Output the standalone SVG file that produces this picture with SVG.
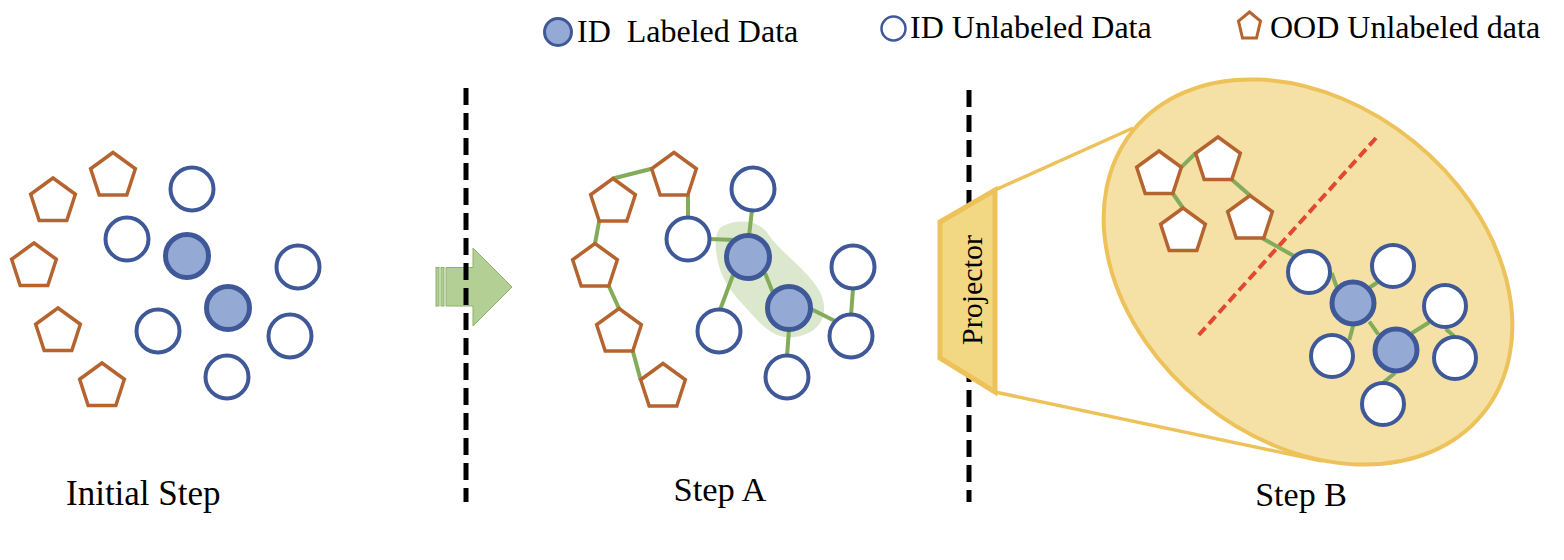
<svg xmlns="http://www.w3.org/2000/svg" width="1564" height="560" viewBox="0 0 1564 560">
<style>
.ood{fill:#fff;stroke:#B5642F;stroke-width:3.5;stroke-linejoin:miter}
.unl{fill:#fff;stroke:#3F5898;stroke-width:4}
.lab{fill:#95A9D5;stroke:#3F5898;stroke-width:5}
.edge{stroke:#82AC5A;stroke-width:4;fill:none}
.sep{stroke:#000;stroke-width:5;stroke-dasharray:17 8;fill:none}
.gold{stroke:#EDC25A;fill:none}
</style>
<defs>
<polygon id="pent" points="0,-23.5 22.35,-7.26 13.81,19.01 -13.81,19.01 -22.35,-7.26"/>
</defs>

<!-- Legend -->
<g id="legend">
<circle cx="558" cy="32" r="13.5" fill="#95A9D5" stroke="#3F5898" stroke-width="3"/>
<text font-family="Liberation Serif, DejaVu Serif, serif" fill="#000" x="577" y="42" font-size="32" xml:space="preserve">ID  Labeled Data</text>
<circle cx="893.5" cy="28.5" r="12" fill="#fff" stroke="#3F5898" stroke-width="2.5"/>
<text font-family="Liberation Serif, DejaVu Serif, serif" fill="#000" x="910" y="38" font-size="32">ID Unlabeled Data</text>
<polygon points="1249.5,12 1260.5,21 1256.5,38 1242.5,38 1238.5,21" fill="#fff" stroke="#B5642F" stroke-width="3"/>
<text font-family="Liberation Serif, DejaVu Serif, serif" fill="#000" x="1270" y="38" font-size="32">OOD Unlabeled data</text>
</g>

<!-- Step B background: ellipse and projector -->
<g id="projector-zoom">
<line class="gold" x1="995" y1="190" x2="1133" y2="128" stroke-width="3.5"/>
<line class="gold" x1="995" y1="392" x2="1322" y2="461" stroke-width="3.5"/>
<ellipse cx="1308" cy="272" rx="225" ry="168" transform="rotate(39 1308 272)" fill="#F5E0A6" stroke="#EDC25A" stroke-width="4"/>
<line x1="1376" y1="138" x2="1197" y2="337" stroke="#E2472F" stroke-width="4" stroke-dasharray="10 5"/>
</g>

<!-- Green highlight (Step A) -->
<path id="highlight" d="M720,228 C732,219 758,218 768,234 C782,254 808,270 820,292 C830,312 822,333 795,337 C775,340 762,326 748,310 C735,296 722,282 718,262 C715,248 714,236 720,228 Z" fill="#DBE8CD"/>

<!-- Connectors -->
<g id="connectors">
<line class="edge" x1="613" y1="178.5" x2="651.6" y2="168.7"/>
<line class="edge" x1="688" y1="195" x2="688" y2="218"/>
<line class="edge" x1="599.2" y1="221" x2="595" y2="243.5"/>
<line class="edge" x1="608.8" y1="286" x2="619" y2="308.5"/>
<line class="edge" x1="632.8" y1="351" x2="640.6" y2="379.7"/>
<line class="edge" x1="709" y1="239" x2="736" y2="240"/>
<line class="edge" x1="752" y1="210" x2="749" y2="236"/>
<line class="edge" x1="733" y1="275" x2="720" y2="310"/>
<line class="edge" x1="765" y1="273" x2="773" y2="293"/>
<line class="edge" x1="811" y1="309" x2="835" y2="321"/>
<line class="edge" x1="789" y1="330" x2="787" y2="356"/>
<line class="edge" x1="853" y1="289" x2="851" y2="315"/>
<line class="edge" x1="1181.4" y1="167.2" x2="1195.6" y2="153.2"/>
<line class="edge" x1="1172.8" y1="193.5" x2="1183" y2="208"/>
<line class="edge" x1="1231.8" y1="179.5" x2="1250" y2="195.5"/>
<line class="edge" x1="1262" y1="238" x2="1294" y2="256"/>
<line class="edge" x1="1331.7" y1="273" x2="1337" y2="288"/>
<line class="edge" x1="1378" y1="282" x2="1369" y2="288"/>
<line class="edge" x1="1353.3" y1="325" x2="1349.3" y2="340"/>
<line class="edge" x1="1369.3" y1="321.7" x2="1378.3" y2="334.3"/>
<line class="edge" x1="1411.7" y1="333.3" x2="1429.3" y2="322.3"/>
<line class="edge" x1="1445.7" y1="329" x2="1454" y2="336"/>
<line class="edge" x1="1395" y1="373" x2="1384" y2="382"/>
</g>

<!-- Initial step nodes -->
<g id="initial-ood">
<use href="#pent" class="ood" x="113" y="176"/>
<use href="#pent" class="ood" x="53" y="201.5"/>
<use href="#pent" class="ood" x="34" y="266.5"/>
<use href="#pent" class="ood" x="58" y="331.5"/>
<use href="#pent" class="ood" x="102" y="386.5"/>
</g>
<g id="initial-id">
<circle class="unl" cx="192" cy="189" r="21.5"/>
<circle class="unl" cx="127" cy="239" r="21.5"/>
<circle class="lab" cx="187" cy="256" r="21.5"/>
<circle class="unl" cx="298" cy="267" r="21.5"/>
<circle class="lab" cx="228" cy="308" r="21.5"/>
<circle class="unl" cx="158" cy="331" r="21.5"/>
<circle class="unl" cx="290" cy="336" r="21.5"/>
<circle class="unl" cx="227" cy="377" r="21.5"/>
</g>

<!-- Step A nodes -->
<g id="stepA-ood">
<use href="#pent" class="ood" x="674" y="176"/>
<use href="#pent" class="ood" x="613" y="202"/>
<use href="#pent" class="ood" x="595" y="267"/>
<use href="#pent" class="ood" x="619" y="332"/>
<use href="#pent" class="ood" x="663" y="387"/>
</g>
<g id="stepA-id">
<circle class="unl" cx="753" cy="189" r="21.5"/>
<circle class="unl" cx="688" cy="239" r="21.5"/>
<circle class="lab" cx="748" cy="257" r="21.5"/>
<circle class="unl" cx="853" cy="267" r="21.5"/>
<circle class="lab" cx="789" cy="308" r="21.5"/>
<circle class="unl" cx="719" cy="331" r="21.5"/>
<circle class="unl" cx="851" cy="336" r="21.5"/>
<circle class="unl" cx="787" cy="377" r="21.5"/>
</g>

<!-- Step B nodes -->
<g id="stepB-ood">
<use href="#pent" class="ood" x="1159" y="174.5"/>
<use href="#pent" class="ood" x="1218" y="160.5"/>
<use href="#pent" class="ood" x="1183" y="231.5"/>
<use href="#pent" class="ood" x="1250" y="219"/>
</g>
<g id="stepB-id">
<circle class="unl" cx="1309" cy="272" r="21"/>
<circle class="unl" cx="1393" cy="266" r="21"/>
<circle class="lab" cx="1353" cy="303" r="21"/>
<circle class="unl" cx="1445" cy="306" r="21"/>
<circle class="unl" cx="1332" cy="356" r="21"/>
<circle class="lab" cx="1396" cy="350" r="21"/>
<circle class="unl" cx="1455" cy="358" r="21"/>
<circle class="unl" cx="1383" cy="404" r="21"/>
</g>

<!-- Arrow -->
<g id="arrow" fill="#B3CF94" stroke="#8BB268" stroke-width="1">
<rect x="436" y="267.5" width="3" height="38.5"/>
<rect x="441" y="267.5" width="3" height="38.5"/>
<polygon points="446,267.5 473,267.5 473,248 512,287 473,326 473,306 446,306"/>
</g>

<!-- Separators -->
<g id="separators">
<line class="sep" x1="466" y1="88" x2="466" y2="502"/>
<line class="sep" x1="969" y1="90" x2="969" y2="502"/>
</g>

<!-- Projector -->
<g id="projector">
<polygon points="940,222 995,190 995,392 940,358" fill="#F3D884" stroke="#EDC25A" stroke-width="5" stroke-linejoin="miter"/>
<text font-family="Liberation Serif, DejaVu Serif, serif" fill="#000" font-size="30" text-anchor="middle" transform="translate(982,290) rotate(-90)">Projector</text>
</g>

<!-- Step labels -->
<g id="labels">
<text font-family="Liberation Serif, DejaVu Serif, serif" fill="#000" x="66" y="505" font-size="35">Initial Step</text>
<text font-family="Liberation Serif, DejaVu Serif, serif" fill="#000" x="720" y="501" font-size="34.5" text-anchor="middle">Step A</text>
<text font-family="Liberation Serif, DejaVu Serif, serif" fill="#000" x="1301" y="506" font-size="34" text-anchor="middle">Step B</text>
</g>
</svg>
